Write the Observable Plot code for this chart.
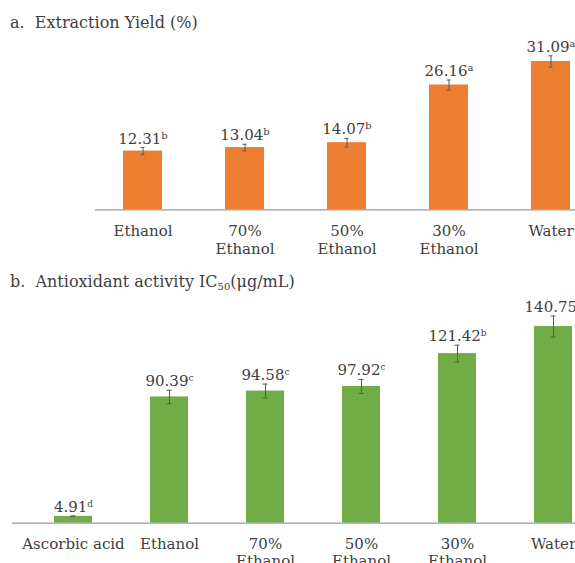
<!DOCTYPE html>
<html>
<head>
<meta charset="utf-8">
<script src="https://cdn.jsdelivr.net/npm/d3@7"></script>
<script src="https://cdn.jsdelivr.net/npm/@observablehq/plot@0.6"></script>
<style>
  html, body { margin: 0; padding: 0; background: #fff; overflow: hidden; }
  body { width: 575px; height: 563px; position: relative; font-family: "DejaVu Serif", serif; color: #404040; }
  .title { position: absolute; left: 10px; font-size: 16px; line-height: 20px; white-space: nowrap; }
  .title sub { font-size: 10px; vertical-align: -3px; line-height: 0; }
  .panel { position: absolute; left: 0; }
  .panel svg { overflow: hidden; }
</style>
</head>
<body>
<div class="title" style="top:13px">a.&nbsp; Extraction Yield (%)</div>
<div class="panel" id="panelA" style="top:35px"></div>
<div class="title" style="top:272px">b.&nbsp; Antioxidant activity IC<sub>50</sub>(μg/mL)</div>
<div class="panel" id="panelB" style="top:295px"></div>
<script>
// Extraction yield (%) by solvent
const categoriesA = ["Ethanol", "70%\nEthanol", "50%\nEthanol", "30%\nEthanol", "Water"];
const yieldValues = [12.31, 13.04, 14.07, 26.16, 31.09];
const yieldErrors = [0.75, 0.7, 0.9, 1.05, 1.2];
const yieldGroups = ["b", "b", "b", "a", "a"];

// Antioxidant activity IC50 (µg/mL), ascorbic acid as reference
const categoriesB = ["Ascorbic acid", "Ethanol", "70%\nEthanol", "50%\nEthanol", "30%\nEthanol", "Water"];
const ic50Values = [4.91, 90.39, 94.58, 97.92, 121.42, 140.75];
const ic50Errors = [0.3, 4.8, 5.0, 5.0, 6.0, 7.5];
const ic50Groups = ["d", "c", "c", "c", "b", "a"];

const textColor = "#404040";
const font = "DejaVu Serif";

function barPanel({categories, values, errors, groups, color, height, xRange, padding, yDomain, yRange, axisStart, capInset, supSize, labelDy}) {
  const rows = categories.map((c, i) => ({cat: c, v: values[i], e: errors[i], g: groups[i], label: values[i].toFixed(2)}));
  const svg = Plot.plot({
    width: 575,
    height,
    marginLeft: axisStart,
    marginRight: 0,
    marginTop: 0,
    marginBottom: 0,
    style: {fontFamily: font, color: textColor, background: "transparent"},
    x: {domain: categories, range: xRange, padding, axis: null},
    y: {domain: yDomain, range: yRange, axis: null},
    marks: [
      Plot.barY(rows, {x: "cat", y: "v", fill: color}),
      Plot.ruleX(rows, {x: "cat", y1: d => d.v - d.e, y2: d => d.v + d.e, stroke: "#5a5a5a", strokeWidth: 1}),
      Plot.tickY(rows, {x: "cat", y: d => d.v - d.e, stroke: "#5a5a5a", strokeWidth: 1, inset: capInset}),
      Plot.tickY(rows, {x: "cat", y: d => d.v + d.e, stroke: "#5a5a5a", strokeWidth: 1, inset: capInset}),
      Plot.ruleY([0], {stroke: "#9a9a9a", strokeWidth: 1.2}),
      Plot.text(rows, {
        x: "cat", y: d => d.v + d.e, text: "label",
        lineAnchor: "bottom", dy: -4, fontSize: 15, fill: textColor
      }),
      Plot.text(categories, {
        x: d => d, y: () => 0, text: d => d,
        lineAnchor: "top", dy: labelDy, fontSize: 15, lineHeight: 1.17, fill: textColor
      })
    ]
  });
  // significance letters as superscripts after each value
  const letterOf = new Map(rows.map(r => [r.label, r.g]));
  svg.querySelectorAll("text").forEach(t => {
    const key = t.textContent.trim();
    if (letterOf.has(key)) {
      const s = document.createElementNS("http://www.w3.org/2000/svg", "tspan");
      s.setAttribute("dy", "-5");
      s.setAttribute("font-size", supSize);
      s.textContent = letterOf.get(key);
      t.appendChild(s);
    }
  });
  return svg;
}

document.getElementById("panelA").appendChild(barPanel({
  categories: categoriesA, values: yieldValues, errors: yieldErrors, groups: yieldGroups,
  color: "#ED7D31", height: 230, xRange: [57.8, 636], padding: 0.615,
  yDomain: [0, 35], yRange: [174.3, 174.3 - 4.77 * 35], axisStart: 95, capInset: 17.5, supSize: 10, labelDy: 14
}));

document.getElementById("panelB").appendChild(barPanel({
  categories: categoriesB, values: ic50Values, errors: ic50Errors, groups: ic50Groups,
  color: "#70AD47", height: 268, xRange: [-4, 630], padding: 0.604,
  yDomain: [0, 150], yRange: [227.7, 227.7 - 1.397 * 150], axisStart: 12, capInset: 16.5, supSize: 9, labelDy: 13.2
}));
</script>
</body>
</html>
